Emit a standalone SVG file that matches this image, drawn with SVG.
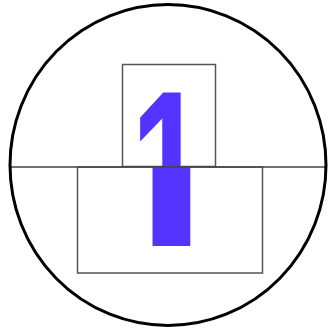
<svg xmlns="http://www.w3.org/2000/svg" width="328" height="329" viewBox="0 0 328 329">
<style>
.frame{fill:none;stroke:#555;stroke-width:1.5}
.one{font-family:"Liberation Sans",Arial,sans-serif;font-weight:bold;font-size:215px;fill:#5533ff}
</style>
<defs>
<clipPath id="cu"><rect x="122" y="64" width="94" height="103"/></clipPath>
<clipPath id="cl"><rect x="140" y="167" width="60" height="79"/></clipPath>
</defs>
<rect width="328" height="329" fill="#fff"/>
<g id="upper">
<rect class="frame" x="122.5" y="64.5" width="93" height="102"/>
<g clip-path="url(#cu)"><text class="one" transform="translate(131,246) scale(0.623,1.035)">1</text></g>
</g>
<g id="lower">
<rect class="frame" x="77.5" y="167" width="185" height="106"/>
<g clip-path="url(#cl)"><text class="one" transform="translate(88.3,270) scale(1.28,1)">1</text></g>
</g>
<line x1="10" y1="167" x2="326" y2="167" stroke="#444" stroke-width="1.5"/>
<ellipse cx="168" cy="165" rx="158" ry="160.5" fill="none" stroke="#000" stroke-width="3"/>
</svg>
